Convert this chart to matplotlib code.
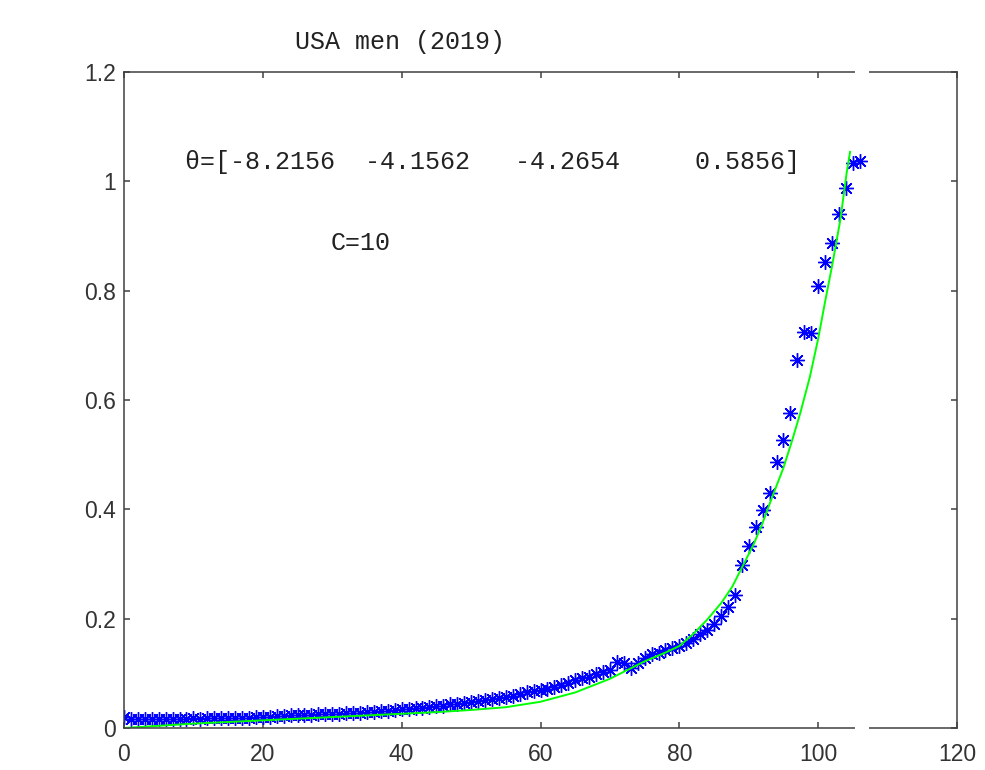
import matplotlib.pyplot as plt
from matplotlib.patches import Rectangle
import numpy as np

# observed rates, ages 0..106
ages = np.arange(0, 107)
rates = [
    0.020, 0.017, 0.016, 0.017, 0.016, 0.017, 0.017, 0.016, 0.017, 0.017,
    0.018, 0.017, 0.018, 0.018, 0.018, 0.019, 0.018, 0.019, 0.019, 0.020,
    0.021, 0.021, 0.022, 0.022, 0.023, 0.023, 0.024, 0.024, 0.025, 0.025,
    0.026, 0.026, 0.027, 0.028, 0.028, 0.029, 0.030, 0.031, 0.032, 0.033,
    0.034, 0.035, 0.036, 0.037, 0.038, 0.040, 0.041, 0.043, 0.044, 0.046,
    0.048, 0.049, 0.051, 0.053, 0.055, 0.057, 0.059, 0.062, 0.065, 0.068,
    0.069, 0.072, 0.075, 0.079, 0.083, 0.088, 0.091, 0.094, 0.098, 0.102,
    0.106, 0.121, 0.119, 0.110, 0.118, 0.128, 0.135, 0.138, 0.142, 0.146,
    0.150, 0.156, 0.163, 0.172, 0.180, 0.190, 0.205, 0.221, 0.243, 0.298,
    0.333, 0.367, 0.399, 0.430, 0.486, 0.526, 0.576, 0.673, 0.724, 0.722,
    0.808, 0.852, 0.887, 0.941, 0.987, 1.033, 1.038,
]

# fitted curve
fit_age = [0, 5, 10, 15, 20, 25, 30, 35, 40, 45, 50, 55, 60, 65, 70, 75, 78,
           80, 82, 84, 86, 87.6, 89.2, 90.7, 91.9, 93.3, 95, 96.2, 97.4, 98.8,
           100, 101, 102, 103.2, 104.1, 104.6]
fit_val = [0.0, 0.004, 0.008, 0.011, 0.014, 0.017, 0.020, 0.023, 0.026, 0.029,
           0.033, 0.038, 0.048, 0.065, 0.090, 0.122, 0.138, 0.150, 0.172, 0.198,
           0.228, 0.258, 0.298, 0.336, 0.372, 0.420, 0.476, 0.524, 0.575, 0.642,
           0.712, 0.780, 0.845, 0.930, 1.015, 1.054]

title = "USA men (2019)"
theta_txt = "\u03b8=[-8.2156  -4.1562   -4.2654     0.5856]"
c_txt = "C=10"

fig = plt.figure(figsize=(9.85, 7.7), dpi=100)
ax = fig.add_axes([124/985, 42/770, 833/985, 656/770])

ax.plot(ages, rates, linestyle="none", marker=(8, 2, 0), markersize=10.5,
        color="#0000ff", markeredgewidth=1.0)
ax.plot(fit_age, fit_val, color="#00ff00", linewidth=1.4)

ax.set_xlim(0, 120)
ax.set_ylim(0, 1.2)
ax.set_xticks(np.arange(0, 121, 20))
ax.set_yticks([0, 0.2, 0.4, 0.6, 0.8, 1.0, 1.2])
ax.set_yticklabels(["0", "0.2", "0.4", "0.6", "0.8", "1", "1.2"])

for s in ax.spines.values():
    s.set_color("#404040")
    s.set_linewidth(1.1)
ax.tick_params(direction="in", top=True, right=True, length=4, width=1.1,
               color="#404040", labelsize=16.5, labelcolor="#333333")
ax.tick_params(axis="x", pad=11)
ax.tick_params(axis="y", pad=6)
for lab in ax.get_xticklabels() + ax.get_yticklabels():
    lab.set_fontfamily("Liberation Sans")

mono = "Liberation Mono"
fig.text(400/985, 1 - 42/770, title, ha="center", va="center",
         fontsize=18, family=mono, color="#222222")
ax.text(8.8, 1.035, theta_txt, ha="left", va="center", fontsize=18,
        family=[mono, "DejaVu Sans Mono"], color="#222222")
ax.text(29.7, 0.888, c_txt, ha="left", va="center", fontsize=18,
        family=mono, color="#222222")

# white break in the top and bottom frame lines
for yc in (72, 728):
    fig.patches.append(Rectangle((855/985, (770 - yc - 5)/770), 14/985, 10/770,
                                 transform=fig.transFigure, facecolor="white",
                                 edgecolor="none", zorder=10))

fig.savefig("out.png", dpi=100)
